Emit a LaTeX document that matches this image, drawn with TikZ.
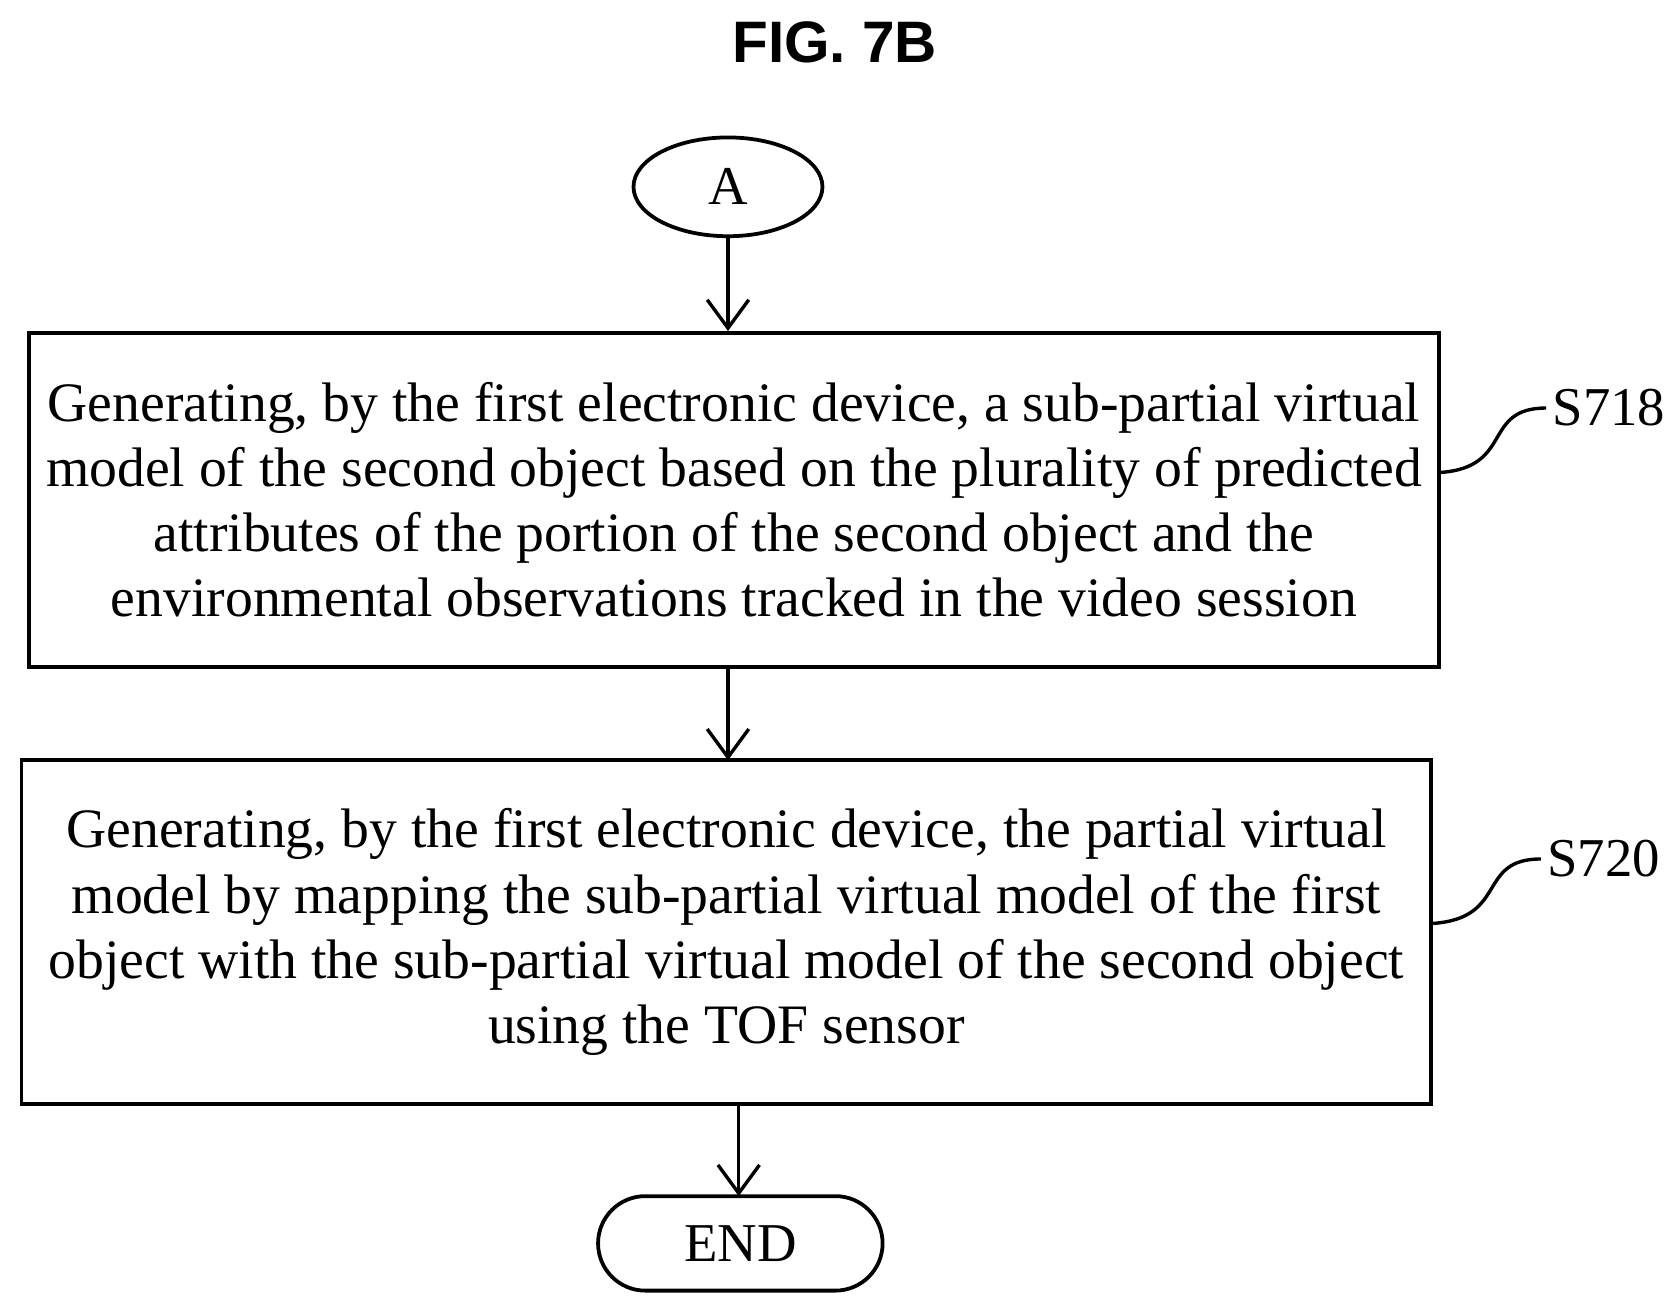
\documentclass[tikz,border=0pt]{standalone}
\usepackage{fontspec}
\setmainfont{Liberation Serif}
\newfontfamily\titlefont{Liberation Sans}
\usetikzlibrary{arrows.meta,shapes.geometric}
\begin{document}
\begin{tikzpicture}[
    stepbox/.style={draw, line width=2pt, minimum width=26.26cm, align=center,
      font=\fontsize{29.5}{34.5}\selectfont},
    term/.style={draw, line width=2pt, font=\fontsize{29}{34}\selectfont},
    flow/.style={line width=1.8pt, -{Straight Barb[length=15pt, width=22pt, line width=1.8pt]}},
    tag/.style={font=\fontsize{29}{34}\selectfont, anchor=west}
  ]
    \useasboundingbox (0,0) rectangle (31.2,-24.36);
    % titulo
    \node[font=\titlefont\bfseries\fontsize{31}{35}\selectfont] (title) at (15.55,-0.78) {FIG. 7B};

    % conector inicial
    \node[term, ellipse, minimum width=3.52cm, minimum height=1.84cm] (A) at (13.56,-3.48) {A};

    % pasos
    \node[stepbox, minimum height=6.22cm] (s718) at (13.67,-9.31)
      {Generating, by the first electronic device, a sub-partial virtual\\
       model of the second object based on the plurality of predicted\\
       attributes of the portion of the second object and the\\
       environmental observations tracked in the video session};
    \node[stepbox, minimum height=6.4cm] (s720) at (13.53,-17.36)
      {Generating, by the first electronic device, the partial virtual\\
       model by mapping the sub-partial virtual model of the first\\
       object with the sub-partial virtual model of the second object\\
       using the TOF sensor};

    % fin
    \node[term, rounded corners=0.88cm, minimum width=5.3cm, minimum height=1.76cm] (end) at (13.79,-23.16) {END};

    \draw[flow] (A.south) -- (A.south |- s718.north);
    \draw[flow] (13.56,-12.42) -- (13.56,-14.16);
    \draw[flow] (13.76,-20.56) -- (13.76,-22.28);

    % etiquetas
    \node[tag] (l718) at (28.8,-7.6) {S718};
    \node[tag] (l720) at (28.7,-16.0) {S720};
    \draw[line width=1.8pt] (s718.east |- 0,-8.8) .. controls (28.2,-8.7) and (27.6,-7.6) .. (l718.west);
    \draw[line width=1.8pt] (s720.east |- 0,-17.2) .. controls (28.1,-17.1) and (27.5,-16.0) .. (l720.west);
\end{tikzpicture}
\end{document}
